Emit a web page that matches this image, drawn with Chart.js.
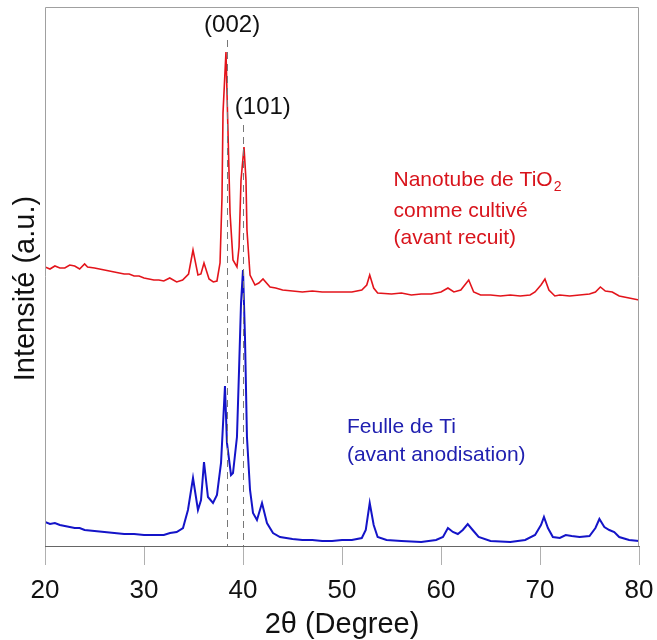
<!DOCTYPE html>
<html>
<head>
<meta charset="utf-8">
<script src="https://cdn.jsdelivr.net/npm/chart.js@4/dist/chart.umd.min.js"></script>
<style>
  html, body { margin: 0; padding: 0; background: #fff; }
  #wrap { width: 657px; height: 640px; position: relative; }
</style>
</head>
<body>
<div id="wrap"><canvas id="xrd-canvas"></canvas></div>
<script>
// TiO2 nanotubes as grown (red, offset upward)
const redTheta = [20, 20.5, 21, 21.5, 22, 22.5, 23, 23.5, 24, 24.3, 25, 25.5, 26, 26.5, 27, 27.5, 28, 28.5, 29, 29.5, 30, 30.5, 31, 31.5, 32, 32.6, 33.3, 33.9, 34.5, 34.95, 35.45, 35.75, 36.06, 36.57, 37.0, 37.37, 37.68, 37.88, 37.98, 38.28, 38.48, 38.69, 38.99, 39.39, 39.6, 39.8, 40.1, 40.3, 40.4, 40.71, 41.21, 41.6, 42.02, 42.73, 43.3, 44, 45, 46, 47, 48, 49, 50, 51, 52, 52.5, 52.8, 53.2, 53.6, 55, 56, 57, 58, 59, 60, 60.7, 61.3, 62, 62.8, 63.3, 64, 65, 66, 67, 68, 69, 69.5, 70.1, 70.5, 70.9, 71.5, 72, 73, 74, 75, 75.6, 76.1, 76.6, 77.3, 78, 79, 80];
const redCounts = [279, 277, 280, 278, 278, 281, 280, 277, 282, 279, 278, 277, 276, 275, 274, 273, 272, 272, 270, 270, 268, 267, 266, 266, 265, 268, 264, 266, 272, 296, 271, 272, 283, 267, 264, 265, 283, 349, 433, 494, 416, 333, 286, 279, 299, 366, 399, 366, 316, 271, 261, 263, 267, 259, 258, 256, 255, 254, 255, 254, 254, 254, 254, 256, 261, 271, 258, 253, 252, 253, 251, 252, 252, 254, 258, 254, 256, 266, 254, 251, 251, 250, 251, 250, 251, 254, 261, 267, 256, 250, 251, 250, 251, 252, 254, 259, 255, 254, 250, 248, 246];

// Ti foil before anodisation (blue)
const blueTheta = [20, 20.5, 21, 21.5, 22, 22.5, 23, 23.5, 24, 25, 26, 27, 28, 29, 30, 31, 32, 32.63, 33.3, 33.94, 34.44, 34.95, 35.45, 35.76, 36.06, 36.46, 36.97, 37.37, 37.78, 38.18, 38.38, 38.79, 38.99, 39.39, 39.6, 39.8, 40.0, 40.2, 40.4, 40.71, 41.01, 41.41, 41.92, 42.42, 43.03, 43.74, 45, 46, 47, 48, 49, 50, 51, 52, 52.4, 52.8, 53.2, 53.6, 54.5, 56, 58, 59.5, 60.2, 60.7, 61.2, 61.7, 62.2, 62.7, 63.2, 63.8, 65, 67, 68.5, 69.5, 70.1, 70.4, 70.8, 71.3, 72, 72.6, 73.2, 74, 75, 75.6, 76.0, 76.5, 77, 77.5, 78, 79, 80];
const blueCounts = [24, 22, 23, 21, 20, 19, 18, 18, 16, 15, 14, 13, 12, 12, 11, 11, 11, 13, 14, 18, 36, 68, 36, 46, 84, 49, 43, 51, 83, 160, 103, 71, 73, 109, 176, 243, 276, 209, 109, 56, 33, 26, 43, 23, 13, 9, 7, 6, 6, 5, 5, 6, 6, 8, 16, 43, 21, 9, 6, 5, 4, 6, 9, 18, 14, 12, 16, 22, 16, 9, 5, 4, 6, 11, 21, 29, 18, 9, 8, 11, 10, 9, 10, 18, 27, 19, 16, 14, 9, 6, 5];

const xTicks = [20, 30, 40, 50, 60, 70, 80];

// reflection guides
const peakLabels = ['(002)', '(101)'];
const peakTheta = [38.35, 40.05];
const peakGuideTop = [506, 421];
const peakLabelTheta = [38.9, 42.0];
const peakLabelCounts = [521, 439];

const redColor = '#e3141b';
const blueColor = '#1414c8';
const fontFamily = '"Liberation Sans", Arial, sans-serif';

const frame = {
  id: 'frame',
  afterDraw(chart) {
    const { ctx, chartArea: a } = chart;
    ctx.save();
    ctx.strokeStyle = '#a0a0a0';
    ctx.lineWidth = 1;
    ctx.beginPath();
    ctx.moveTo(a.left + 0.5, a.bottom);
    ctx.lineTo(a.left + 0.5, a.top + 0.5);
    ctx.lineTo(a.right - 0.5, a.top + 0.5);
    ctx.lineTo(a.right - 0.5, a.bottom);
    ctx.stroke();
    ctx.restore();
  },
};

const notes = {
  id: 'notes',
  afterDatasetsDraw(chart) {
    const { ctx, scales: { x, y } } = chart;
    ctx.save();
    ctx.setLineDash([7, 5]);
    ctx.strokeStyle = '#777';
    ctx.lineWidth = 1;
    peakTheta.forEach((t, i) => {
      const px = Math.round(x.getPixelForValue(t)) + 0.5;
      ctx.beginPath();
      ctx.moveTo(px, y.getPixelForValue(peakGuideTop[i]));
      ctx.lineTo(px, y.getPixelForValue(0));
      ctx.stroke();
    });
    ctx.setLineDash([]);
    ctx.fillStyle = '#111';
    ctx.font = `24px ${fontFamily}`;
    ctx.textAlign = 'center';
    ctx.textBaseline = 'middle';
    peakLabels.forEach((txt, i) => {
      ctx.fillText(txt, x.getPixelForValue(peakLabelTheta[i]), y.getPixelForValue(peakLabelCounts[i]));
    });

    ctx.textAlign = 'left';
    ctx.font = `21px ${fontFamily}`;
    ctx.fillStyle = '#d8141c';
    const rx = x.getPixelForValue(55.2);
    const l1 = 'Nanotube de TiO';
    ctx.fillText(l1, rx, y.getPixelForValue(366));
    const w1 = ctx.measureText(l1).width;
    ctx.font = `14px ${fontFamily}`;
    ctx.fillText('2', rx + w1 + 1, y.getPixelForValue(366) + 7);
    ctx.font = `21px ${fontFamily}`;
    ctx.fillText('comme cultivé', rx, y.getPixelForValue(335));
    ctx.fillText('(avant recuit)', rx, y.getPixelForValue(308));

    ctx.fillStyle = '#2020b0';
    const bx = x.getPixelForValue(50.5);
    ctx.fillText('Feulle de Ti', bx, y.getPixelForValue(119));
    ctx.fillText('(avant anodisation)', bx, y.getPixelForValue(91));
    ctx.restore();
  },
};

function setUpXrdChart() {
  const canvas = document.getElementById('xrd-canvas');

  const options = {
    type: 'line',
    data: {
      datasets: [
        {
          label: 'Nanotube de TiO2',
          data: redTheta.map((t, i) => ({ x: t, y: redCounts[i] })),
          borderColor: redColor,
          borderWidth: 1.6,
          pointRadius: 0,
          tension: 0,
        },
        {
          label: 'Feulle de Ti',
          data: blueTheta.map((t, i) => ({ x: t, y: blueCounts[i] })),
          borderColor: blueColor,
          borderWidth: 2,
          pointRadius: 0,
          tension: 0,
        },
      ],
    },
    options: {
      responsive: true,
      maintainAspectRatio: false,
      animation: false,
      layout: { padding: { top: 7, right: 18, left: 0, bottom: 0 } },
      plugins: { legend: { display: false }, tooltip: { enabled: false } },
      scales: {
        x: {
          type: 'linear',
          min: 20,
          max: 80,
          afterBuildTicks: scale => {
            scale.ticks = xTicks.map(v => ({ value: v }));
          },
          afterFit: scale => {
            scale.height = 94;
            scale.paddingLeft = 0;
            scale.paddingRight = 0;
          },
          grid: {
            drawOnChartArea: false,
            drawTicks: true,
            tickLength: 19,
            color: '#b0b0b0',
          },
          border: { display: true, color: '#666', width: 1 },
          ticks: {
            color: '#111',
            padding: 10,
            font: { family: fontFamily, size: 26 },
          },
          title: {
            display: true,
            text: '2θ (Degree)',
            color: '#111',
            padding: { top: 0, bottom: -2 },
            font: { family: fontFamily, size: 29 },
          },
        },
        y: {
          min: 0,
          max: 539,
          afterFit: scale => { scale.width = 45; },
          grid: { display: false },
          border: { display: false },
          ticks: { display: false },
          title: {
            display: true,
            text: 'Intensité (a.u.)   ',
            color: '#111',
            padding: { top: 9, bottom: 0 },
            font: { family: fontFamily, size: 29 },
          },
        },
      },
    },
    plugins: [frame, notes],
  };

  return new Chart(canvas, options);
}

setUpXrdChart();
</script>
</body>
</html>
